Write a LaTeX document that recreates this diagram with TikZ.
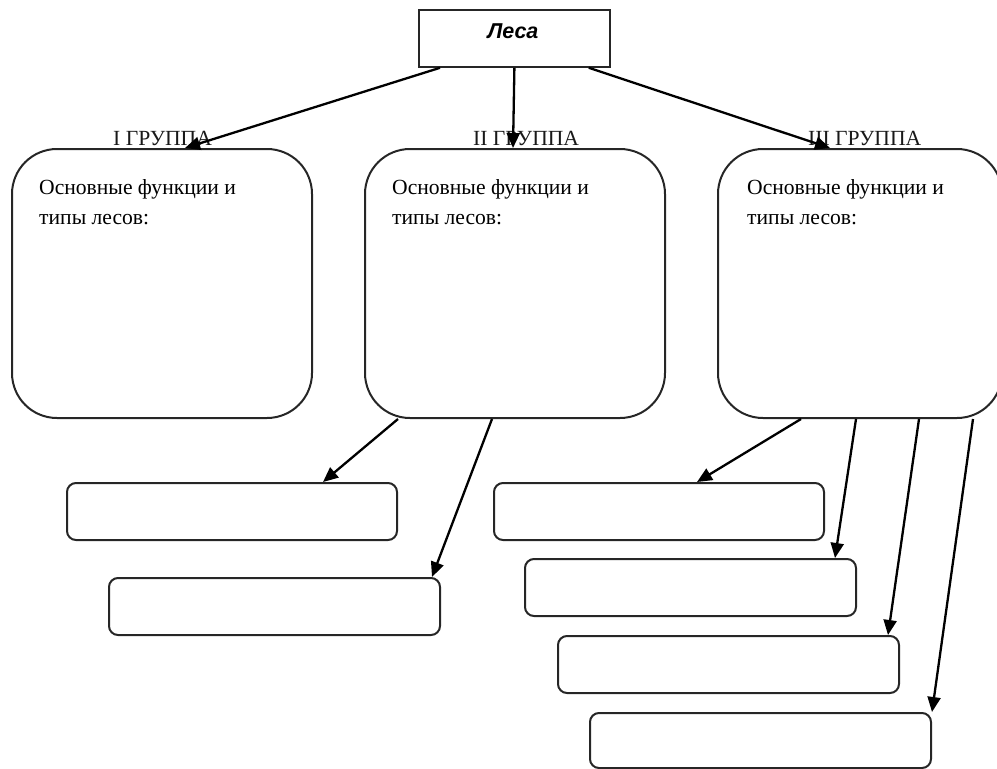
\documentclass[tikz,border=0pt]{standalone}
\usepackage{fontspec}
\setmainfont{Liberation Serif}
\newfontfamily\arialfont{Liberation Sans}
\usetikzlibrary{arrows.meta}
\begin{document}
\begin{tikzpicture}[x=1pt,y=-1pt,
  bigbox/.style={draw=black!85,line width=2pt,rounded corners=45pt,minimum width=300pt,minimum height=269pt,inner sep=0pt,anchor=north west},
  smallbox/.style={draw=black!85,line width=2pt,rounded corners=9pt,minimum height=57pt,inner sep=0pt,anchor=north west},
  topbox/.style={draw=black!85,line width=1.8pt,minimum width=191pt,minimum height=57pt,inner sep=0pt,anchor=north west},
  conn/.style={line width=2.3pt,-{Triangle[length=15pt,width=13pt]}},
  grp/.style={font=\fontsize{21.6}{21.6}\selectfont,inner sep=0pt,anchor=base west,text=black!90},
  body/.style={font=\fontsize{21.6}{21.6}\selectfont,inner sep=0pt,anchor=base west}]
\useasboundingbox (0,0) rectangle (997,769);
\begin{scope}
\clip (0,0) rectangle (997,769);
% top box
\node[topbox] (top) at (418,9) {};
\node[font=\arialfont\bfseries\itshape\fontsize{21.5}{21.5}\selectfont,inner sep=0pt,anchor=base] (lesa) at (513,38) {Леса};
% big boxes
\node[bigbox] (b1) at (11,148) {};
\node[bigbox] (b2) at (364,148) {};
\node[bigbox,minimum width=284pt] (b3) at (717,148) {};
% group labels
\node[grp] (g1) at (113,145) {I ГРУППА};
\node[grp] (g2) at (473,145) {II ГРУППА};
\node[grp] (g3) at (808,145) {III ГРУППА};
% body text
\node[body] (t1a) at (39,194) {Основные функции и};
\node[body] (t1b) at (39,224) {типы лесов:};
\node[body] (t2a) at (392,194) {Основные функции и};
\node[body] (t2b) at (392,224) {типы лесов:};
\node[body] (t3a) at (747,194) {Основные функции и};
\node[body] (t3b) at (747,224) {типы лесов:};
% small boxes
\node[smallbox,minimum width=330pt] (sa) at (66,482) {};
\node[smallbox,minimum width=331pt] (sb) at (108,577) {};
\node[smallbox,minimum width=330pt] (sc) at (493,482) {};
\node[smallbox,minimum width=331pt] (sd) at (524,558) {};
\node[smallbox,minimum width=341pt] (se) at (557,635) {};
\node[smallbox,minimum width=341pt,minimum height=55pt] (sf) at (589,712) {};
% connectors from top box
\draw[conn] ([xshift=22pt]top.south west) -- ([xshift=174pt]b1.north west);
\draw[conn] (top.south) -- ([xshift=149pt]b2.north west);
\draw[conn] ([xshift=-22pt]top.south east) -- ([xshift=113pt]b3.north west);
% from box 2
\draw[conn] ([xshift=34pt]b2.south west) -- ([xshift=257pt]sa.north west);
\draw[conn] ([xshift=128pt]b2.south west) -- ([xshift=324pt]sb.north west);
% from box 3
\draw[conn] ([xshift=84pt]b3.south west) -- ([xshift=204pt]sc.north west);
\draw[conn] ([xshift=139pt]b3.south west) -- ([xshift=311pt]sd.north west);
\draw[conn] ([xshift=202pt]b3.south west) -- ([xshift=331pt]se.north west);
\draw[conn] ([xshift=256pt]b3.south west) -- ([xshift=343pt]sf.north west);
\end{scope}
\end{tikzpicture}
\end{document}
